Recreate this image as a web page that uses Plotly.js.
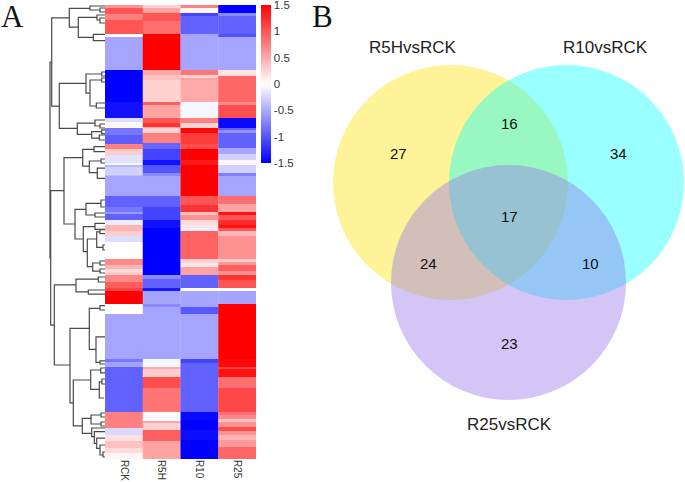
<!DOCTYPE html>
<html>
<head>
<meta charset="utf-8">
<script src="https://cdn.plot.ly/plotly-3.0.1.min.js"></script>
<style>html,body{margin:0;padding:0;background:#fff}</style>
</head>
<body>
<div id="chart" style="width:685px;height:482px"></div>
<script>
const samples = ['RCK','R5H','R10','R25'];
const colorbarTicks = [1.5,1,0.5,0,-0.5,-1,-1.5];
const colorbarLabels = ['1.5','1','0.5','0','-0.5','-1','-1.5'];

// heat-map bands: row edges (gene rows, top to bottom) and z-scores of each band
const rckEdges = [0,1,3,5,9.5,10.5,21.5,32.2,37.5,38.9,41,43.3,46.3,48.1,50,52.8,53.3,54,56.7,57,63.67,67.2,68.9,69.8,71.7,73.3,75.2,77,78.9,84.8,86.7,88.1,88.9,90,92.2,94.4,95.3,99.7,103,118.1,118.9,120.6,135.6,141.1,143.3,145.2,147.8,149.4,151.3];
const rckValues = [0.65,1.0,0.75,1.0,0.0,-0.53,-1.5,-1.4,-0.2,0.03,-0.8,-0.95,0.75,0.3,-0.17,-0.05,-0.42,-0.27,-0.4,-0.53,-0.93,-0.8,-0.6,-0.93,-0.1,0.45,0.28,-0.2,0.01,0.7,0.45,0.2,0.3,0.7,0.95,1.1,1.5,0.0,-0.53,-0.8,-0.55,-0.93,0.75,-0.22,0.18,0.37,0.22,0.05];

const r5hEdges = [0,1.1,2.8,5.2,9.7,21.7,23.3,25,32.2,33.3,37.5,39.2,40.6,41,42.8,46.1,48.1,51.67,53.3,56.1,57,63.67,67.2,71.7,74.4,90,91.4,94.4,95.3,99.7,100.5,118.1,120.6,121.4,124.1,127.8,135.6,137.2,137.8,138.6,139.2,141.5,145.2,151.3];
const r5hValues = [0.27,0.55,1.0,0.85,1.5,0.5,0.37,0.27,0.95,0.55,1.0,1.2,0.55,0.27,0.75,-0.9,-1.1,-1.4,-1.0,-0.7,-0.53,-0.93,-1.1,-1.4,-1.5,-0.7,-0.93,-1.35,-0.53,-0.7,-0.53,-0.05,0.5,0.3,1.05,0.82,0.02,-0.12,0.02,0.55,0.27,0.95,0.55];

const r10Edges = [0,1,2.6,3.6,9.7,21.7,23.3,24.2,25,32.2,37.5,39.2,40.9,42.8,46.3,48.1,51.67,53.3,63.67,66.7,68.9,70,71.7,73.3,74.4,75.2,84.8,86.1,87.2,90,94.4,95.3,100.5,103,118.1,119.2,135.6,138.3,141.5,145,151.3];
const r10Values = [0.75,0.05,-1.1,-0.93,-0.53,0.8,0.27,0.55,0.5,-0.05,0.75,0.27,1.45,1.15,1.05,1.5,1.35,1.5,1.0,1.2,0.37,0.65,0.22,0.15,-0.1,0.92,0.27,0.15,0.55,-0.93,0.0,-0.53,-0.98,-0.53,-1.1,-0.93,-1.45,-1.5,-1.42,-1.5];

const r25Edges = [0,2.6,3.6,9.5,10.6,21.7,23.7,25,32.2,33.3,37.5,40.9,41.7,42.8,47.8,49.7,51.67,53.3,56,57,63.67,66.4,68.9,70,71.5,73.3,74.4,75.2,77,84.8,85.7,86.7,88.6,90,91.7,94.4,95.3,99.7,118.1,120.6,121.4,124.1,127.8,135.6,136.7,138.1,139,140.8,141.9,143.3,145,147.2,151.3];
const r25Values = [-1.5,-0.7,-0.93,-1.03,-0.53,0.18,0.9,0.9,0.7,1.05,-1.45,-0.93,-0.65,-0.93,-0.52,-0.27,0.05,-0.27,-0.75,-0.53,0.85,0.55,1.4,1.0,1.25,1.4,1.0,0.42,0.65,0.32,0.6,0.95,0.65,1.2,1.0,0.0,-0.53,1.5,1.45,1.1,1.4,0.85,1.08,0.85,0.7,0.37,0.65,1.05,0.65,0.45,0.6,0.9];

// dendrogram merges: merge height, then row and height of the top and bottom child
const mergeHeight = [55,53.3,54.3,35.7,15,5,26.7,8,5,11.7,45.7,19,3.3,15,3.3,8.7,27.7,10,5,13.3,3.3,5.7,41,22.3,11,15.7,4,7.7,30,19,4,10,21.7,10,17.7,8.3,5,2,12.3,5,5,50.7,29,6.7,16.7,35,15.7,5,9,5,31.7,14.3,4.3,5.7,3,22.7,14,4,4,13.3,10.7,8.3,5,2];
const topRow = [19,4.3,61.9,1.1,0.33,1,4.1,3.33,4.33,9.8,26.1,23,22.33,25,24.33,32.67,39.4,38.33,39.67,42.2,41.6,43.33,50.9,48.1,47.2,52,51.33,54.4,68.1,66.1,65,69.33,73.9,72.8,78,75.6,74.9,80,86,85.33,88,93.3,91.4,90.67,95,107.8,101.1,100.2,110.6,118.6,125,121.67,121,125.6,124.67,137.8,136.67,136,139,141,142.2,144.4,146.67,149];
const topChild = [53.3,35.7,41,15,0,0,8,0,0,0,19,3.3,0,3.3,0,0,10,0,0,3.3,0,0,22.3,11,0,4,0,0,19,4,0,0,10,0,8.3,5,0,0,5,0,0,29,6.7,0,0,15.7,5,0,0,0,14.3,4.3,0,3,0,14,4,0,0,0,0,0,0,0];
const bottomRow = [84.3,33.7,106.7,7.4,1.67,2.33,10.8,5,6,11.9,41.1,29.4,23.67,33.67,25.67,34.33,43.1,40.33,41,44.4,42.9,45,73,53.7,48.9,55.9,52.67,57.8,78,70,67.33,70.67,82.2,74.8,87.2,80.8,76.2,81.67,88.7,86.67,89.33,120,95.6,92.33,96.4,132.6,114.8,101.67,119.1,119.67,140.3,128.1,122.6,131,126.33,142.8,139.67,137.33,140.33,143.9,146.1,147.8,150,150.67];
const bottomChild = [54.3,45.7,50.7,26.7,5,0,11.7,5,0,0,27.7,15,0,8.7,0,0,13.3,5,0,5.7,0,0,30,15.7,0,7.7,0,0,21.7,10,0,0,17.7,0,12.3,2,0,0,5,0,0,35,16.7,0,0,31.7,9,0,5,0,22.7,5.7,0,1,0,13.3,4,0,0,10.7,8.3,5,2,0];

// Venn diagram
const vennCenterX = [450.5,566.5,508.5];
const vennCenterY = [182.5,182.5,282.5];
const vennRadius = [117.5,117.5,117.5];
const vennFill = ['rgba(255,225,0,0.4)','rgba(0,255,255,0.4)','rgba(145,112,232,0.4)'];
const vennNames = ['R5HvsRCK','R10vsRCK','R25vsRCK'];
const vennNameX = [413,605,509];
const vennNameY = [47,47,424];
const overlapCounts = ['27','16','34','17','24','10','23'];
const overlapX = [398,509,618,509,428,590,509];
const overlapY = [153,123,153,216,263,263,343];

const W = 685, H = 482;
const heatColumn = (edges, values, i) => ({
  type:'heatmap', x:[i-0.5,i+0.5], y:edges, z:values.map(v=>[v]),
  coloraxis:'coloraxis', xaxis:'x', yaxis:'y', hoverinfo:'skip', zsmooth:false
});

const dendX = [], dendY = [];
mergeHeight.forEach((m,i)=>{
  dendX.push(topChild[i], m, m, bottomChild[i], null);
  dendY.push(topRow[i], topRow[i], bottomRow[i], bottomRow[i], null);
});

const traces = [
  heatColumn(rckEdges, rckValues, 0),
  heatColumn(r5hEdges, r5hValues, 1),
  heatColumn(r10Edges, r10Values, 2),
  heatColumn(r25Edges, r25Values, 3),
  {type:'scatter', mode:'lines', x:dendX, y:dendY, xaxis:'x2', yaxis:'y2',
   line:{color:'#4a4a4a', width:1.2}, hoverinfo:'skip', showlegend:false, connectgaps:false}
];

const shapes = vennCenterX.map((cx,i)=>({
  type:'circle', xref:'x3', yref:'y3', layer:'above',
  x0:cx-vennRadius[i], x1:cx+vennRadius[i],
  y0:vennCenterY[i]-vennRadius[i], y1:vennCenterY[i]+vennRadius[i],
  fillcolor:vennFill[i], line:{width:0}
}));

const note = (text,x,y,size,family,color) => ({
  text, x, y, xref:'x3', yref:'y3', showarrow:false,
  xanchor:'center', yanchor:'middle', font:{size, family, color}
});
const sans = 'Liberation Sans, Arial, sans-serif';
const serif = 'Liberation Serif, Times New Roman, serif';
const annotations = [
  ...vennNames.map((t,i)=>note(t,vennNameX[i],vennNameY[i],17,sans,'#222')),
  ...overlapCounts.map((t,i)=>note(t,overlapX[i],overlapY[i],15,sans,'#111')),
  note('A',12,16,31,serif,'#111'),
  note('B',322,16,31,serif,'#111')
];

const yDomain = [1-458.9/H,1-5/H];
const layout = {
  width:W, height:H, margin:{l:0,r:0,t:0,b:0}, paper_bgcolor:'#fff', plot_bgcolor:'rgba(0,0,0,0)',
  showlegend:false, shapes, annotations,
  xaxis:{domain:[105/W,256/W], range:[-0.5,3.5], tickmode:'array', tickvals:[0,1,2,3], ticktext:samples,
         tickangle:90, ticklen:0, ticks:'', showgrid:false, zeroline:false, showline:false,
         tickfont:{size:10,family:sans,color:'#333'}, anchor:'y', automargin:false},
  yaxis:{domain:yDomain, range:[151.3,0], visible:false, anchor:'x', showgrid:false, zeroline:false},
  xaxis2:{domain:[0,105/W], range:[105,0], visible:false, anchor:'y2', showgrid:false, zeroline:false},
  yaxis2:{domain:yDomain, range:[151.3,0], visible:false, anchor:'x2', showgrid:false, zeroline:false},
  xaxis3:{domain:[0,1], range:[0,W], visible:false, anchor:'y3', showgrid:false, zeroline:false},
  yaxis3:{domain:[0,1], range:[H,0], visible:false, anchor:'x3', showgrid:false, zeroline:false},
  coloraxis:{cmin:-1.5, cmax:1.5, colorscale:[[0,'#0000ff'],[0.5,'#ffffff'],[1,'#ff0000']],
    colorbar:{x:261/W, xanchor:'left', xpad:0, y:1-5/H, yanchor:'top', ypad:0,
      lenmode:'pixels', len:158, thicknessmode:'pixels', thickness:10, outlinewidth:0, borderwidth:0,
      tickmode:'array', tickvals:colorbarTicks, ticktext:colorbarLabels, ticks:'', ticklen:0,
      ticklabeloverflow:'allow', tickfont:{size:11.5,family:sans,color:'#333'}}}
};

// a blank trace keeps the Venn axes alive
traces.push({type:'scatter', mode:'markers', x:[0], y:[0], xaxis:'x3', yaxis:'y3',
  marker:{opacity:0}, hoverinfo:'skip', showlegend:false});

Plotly.newPlot('chart', traces, layout, {displayModeBar:false, staticPlot:true});
</script>
</body>
</html>
